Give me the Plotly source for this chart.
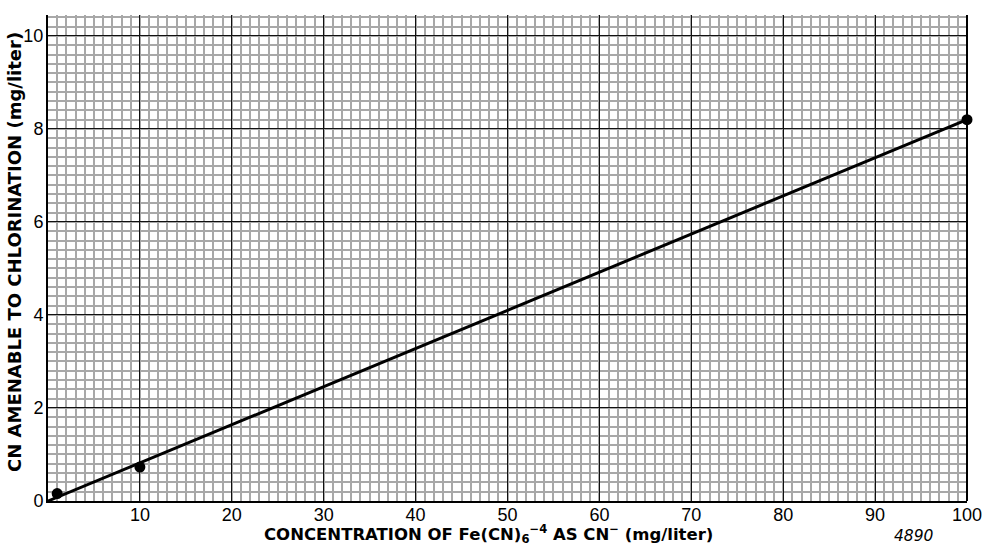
import plotly.graph_objects as go

# data
point_x = [1, 10, 100]
point_y = [0.16, 0.73, 8.2]
fit_x = [0, 100]
fit_y = [0.0, 8.2]
x_ticks = [10, 20, 30, 40, 50, 60, 70, 80, 90, 100]
y_ticks = [0, 2, 4, 6, 8, 10]

W, H = 983, 546
L, T = 48, 15
R = W - 967
B = H - 501
pw, ph = W - L - R, H - T - B

fig = go.Figure()
fig.add_trace(go.Scatter(x=fit_x, y=fit_y, mode="lines",
                         line=dict(color="black", width=3), showlegend=False, cliponaxis=False))
fig.add_trace(go.Scatter(x=point_x, y=point_y, mode="markers",
                         marker=dict(color="black", size=11), showlegend=False, cliponaxis=False))

tick_font = dict(family="Liberation Sans, Arial, sans-serif", size=18, color="black")
title_family = "DejaVu Sans, Verdana, sans-serif"

def px_x(x):
    return (x - L) / pw

def px_y(y):
    return (H - B - y) / ph

fig.update_layout(
    width=W, height=H,
    margin=dict(l=L, r=R, t=T, b=B, autoexpand=False),
    paper_bgcolor="white", plot_bgcolor="white",
    font=dict(family=title_family, color="black", size=14),
    xaxis=dict(
        range=[0, 100], tickvals=x_ticks, ticks="", ticklen=0,
        showgrid=True, gridcolor="#111111", gridwidth=1,
        minor=dict(dtick=1, showgrid=True, gridcolor="#a8a8a8", gridwidth=1.5),
        showline=True, linecolor="black", linewidth=2,
        zeroline=False, tickfont=tick_font, automargin=False, ticklabelstandoff=-4,
        ticklabeloverflow="allow",
    ),
    yaxis=dict(
        range=[0, 10.45], tickvals=y_ticks, ticks="", ticklen=0,
        showgrid=True, gridcolor="#111111", gridwidth=1,
        minor=dict(dtick=0.2, tick0=0, showgrid=True, gridcolor="#a8a8a8", gridwidth=1.5),
        showline=True, linecolor="black", linewidth=2,
        zeroline=False, tickfont=tick_font, automargin=False, ticklabelstandoff=-1,
        ticklabeloverflow="allow",
    ),
    annotations=[
        dict(text="<b>CONCENTRATION OF Fe(CN)<sub>6</sub><sup>−4</sup> AS CN<sup>−</sup> (mg/liter)</b>",
             x=px_x(488), y=px_y(534), xref="paper", yref="paper", showarrow=False,
             xanchor="center", yanchor="middle", font=dict(size=16.5, family=title_family)),
        dict(text="<b>CN AMENABLE TO CHLORINATION (mg/liter)</b>", textangle=-90,
             x=px_x(15), y=px_y(252), xref="paper", yref="paper", showarrow=False,
             xanchor="center", yanchor="middle", font=dict(size=18, family=title_family)),
        dict(text="<i>4890</i>", x=px_x(914), y=px_y(536), xref="paper", yref="paper",
             showarrow=False, xanchor="center", yanchor="middle",
             font=dict(size=15.5, family=title_family)),
    ],
)
fig.add_shape(type="line", xref="paper", yref="paper", x0=1, x1=1, y0=0, y1=1,
              line=dict(color="black", width=2))
fig.write_html("out.html", config={"displayModeBar": False},
               post_script="document.body.style.margin='0';document.body.style.overflow='hidden';")
